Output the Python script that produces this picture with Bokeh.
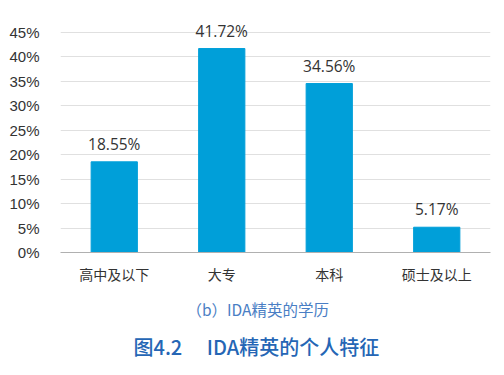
from bokeh.plotting import figure
from bokeh.models import ColumnDataSource, FixedTicker, LabelSet, Title, Range1d
from bokeh.core.properties import value
from bokeh.embed import file_html
from bokeh.resources import INLINE

categories = ["高中及以下", "大专", "本科", "硕士及以上"]
values = [18.55, 41.72, 34.56, 5.17]
labels = ["18.55%", "41.72%", "34.56%", "5.17%"]
yticks = [0, 5, 10, 15, 20, 25, 30, 35, 40, 45]
subtitle = "（b）IDA精英的学历"
main_title = "图4.2\u3000\u00a0IDA精英的个人特征"

src = ColumnDataSource(dict(cat=categories, val=values, lab=labels))

p = figure(x_range=categories, y_range=Range1d(0, 48.07), width=496, height=370,
           output_backend="svg", toolbar_location=None,
           min_border_left=60, min_border_right=6, min_border_top=17, min_border_bottom=118)
p.outline_line_color = None
p.background_fill_color = "white"
p.border_fill_color = "white"

p.vbar(x="cat", top="val", width=0.43, source=src, color="#009fd9")

ls = LabelSet(x="cat", y="val", text="lab", source=src, text_align="center",
              text_baseline="bottom", y_offset=7, text_font_size="15.5px",
              text_color="#333333", text_font=value("Open Sans"))
p.add_layout(ls)

p.yaxis.ticker = FixedTicker(ticks=yticks)
p.yaxis.major_label_overrides = {t: f"{t}%" for t in yticks}
p.yaxis.axis_line_color = None
p.yaxis.major_tick_line_color = None
p.yaxis.minor_tick_line_color = None
p.yaxis.major_label_text_font = "Liberation Sans"
p.yaxis.major_label_text_font_size = "15px"
p.yaxis.major_label_text_color = "#333333"
p.yaxis.major_label_standoff = 15

p.xaxis.axis_line_color = "#b0b0b0"
p.xaxis.major_tick_line_color = None
p.xaxis.minor_tick_line_color = None
p.xaxis.major_label_text_font = "Noto Sans CJK SC"
p.xaxis.major_label_text_font_size = "14px"
p.xaxis.major_label_text_color = "#333333"
p.xaxis.major_label_standoff = 5

p.xgrid.grid_line_color = None
p.ygrid.grid_line_color = "#e0e0e0"
p.ygrid.grid_line_width = 1

p.x_range.range_padding = 0.0

t1 = Title(text=subtitle, align="left", offset=126, standoff=18,
           text_font="Noto Sans CJK SC", text_font_size="15.5px",
           text_font_style="normal", text_color="#4a7ec4")
t2 = Title(text=main_title, align="left", offset=73, standoff=3,
           text_font="'Noto Sans CJK SC Medium', 'Noto Sans CJK SC'", text_font_size="20px",
           text_font_style="normal", text_color="#2566b5")
p.add_layout(t1, "below")
p.add_layout(t2, "below")

open("out.html", "w").write(file_html(p, INLINE))
